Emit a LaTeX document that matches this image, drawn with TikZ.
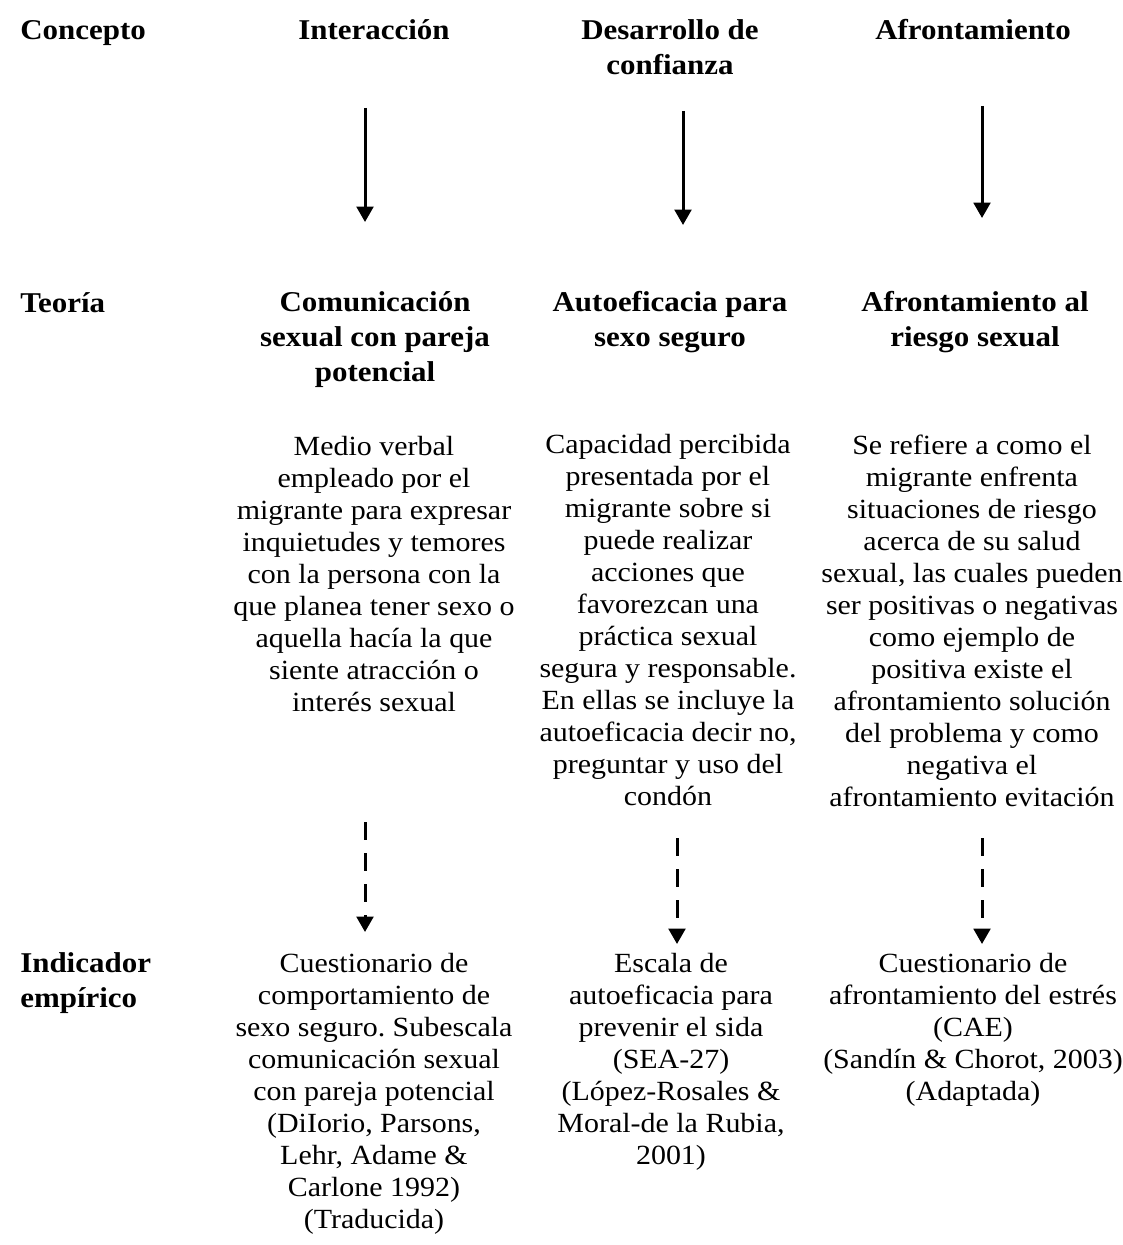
\documentclass[tikz,border=0pt]{standalone}
\usepackage{fontspec}
\setmainfont{Liberation Serif}[FakeStretch=1.08]
\usetikzlibrary{arrows.meta}
\frenchspacing

\begin{document}
% multi-line nodes are placed by the baseline of their last line
\begin{tikzpicture}[x=0.75pt,y=-0.75pt,
  head/.style={font=\fontsize{21.5}{25.9}\selectfont\bfseries, inner sep=0pt, align=center, anchor=base},
  rowlabel/.style={head, align=left, anchor=base west},
  body/.style={font=\fontsize{20.8}{24}\selectfont, inner sep=0pt, align=center, anchor=base},
  link/.style={line width=2.25pt, -{Triangle[length=11.5pt,width=12.5pt]}},
  dlink/.style={link, dash pattern=on 13.5pt off 9.75pt}]
\useasboundingbox (0,0) rectangle (1123,1245);

% row labels
\node[rowlabel] (lconc) at (20,40) {Concepto};
\node[rowlabel] (lteo)  at (20,312) {Teoría};
\node[rowlabel] (lind)  at (20,1007.5) {Indicador\\empírico};

% concepts
\node[head] (c1) at (374,40) {Interacción};
\node[head] (c2) at (670,74.5) {Desarrollo de\\confianza};
\node[head] (c3) at (973,40) {Afrontamiento};

% theories
\node[head] (t1) at (375,381) {Comunicación\\sexual con pareja\\potencial};
\node[head] (t2) at (670,346.5) {Autoeficacia para\\sexo seguro};
\node[head] (t3) at (975,346.5) {Afrontamiento al\\riesgo sexual};

% definitions
\node[body] (d1) at (374,711) {Medio verbal\\empleado por el\\migrante para expresar\\inquietudes y temores\\con la persona con la\\que planea tener sexo o\\aquella hacía la que\\siente atracción o\\interés sexual};
\node[body] (d2) at (668,805) {Capacidad percibida\\presentada por el\\migrante sobre si\\puede realizar\\acciones que\\favorezcan una\\práctica sexual\\segura y responsable.\\En ellas se incluye la\\autoeficacia decir no,\\preguntar y uso del\\condón};
\node[body] (d3) at (972,806) {Se refiere a como el\\migrante enfrenta\\situaciones de riesgo\\acerca de su salud\\sexual, las cuales pueden\\ser positivas o negativas\\como ejemplo de\\positiva existe el\\afrontamiento solución\\del problema y como\\negativa el\\afrontamiento evitación};

% empirical indicators
\node[body] (i1) at (374,1228) {Cuestionario de\\comportamiento de\\sexo seguro. Subescala\\comunicación sexual\\con pareja potencial\\(DiIorio, Parsons,\\Lehr, Adame \&\\Carlone 1992)\\(Traducida)};
\node[body] (i2) at (671,1164) {Escala de\\autoeficacia para\\prevenir el sida\\(SEA-27)\\(López-Rosales \&\\Moral-de la Rubia,\\2001)};
\node[body] (i3) at (973,1100) {Cuestionario de\\afrontamiento del estrés\\(CAE)\\(Sandín \& Chorot, 2003)\\(Adaptada)};

% arrow end points
\coordinate (a1s) at (365,108); \coordinate (a1e) at (365,222);
\coordinate (a2s) at (683,111); \coordinate (a2e) at (683,225);
\coordinate (a3s) at (982,106); \coordinate (a3e) at (982,218);
\coordinate (b1s) at (365,822); \coordinate (b1e) at (365,932);
\coordinate (b2s) at (677,838); \coordinate (b2e) at (677,944);
\coordinate (b3s) at (982,838); \coordinate (b3e) at (982,944);

\draw[link] (a1s) -- (a1e);
\draw[link] (a2s) -- (a2e);
\draw[link] (a3s) -- (a3e);
\draw[dlink] (b1s) -- (b1e);
\draw[dlink] (b2s) -- (b2e);
\draw[dlink] (b3s) -- (b3e);
\end{tikzpicture}
\end{document}
